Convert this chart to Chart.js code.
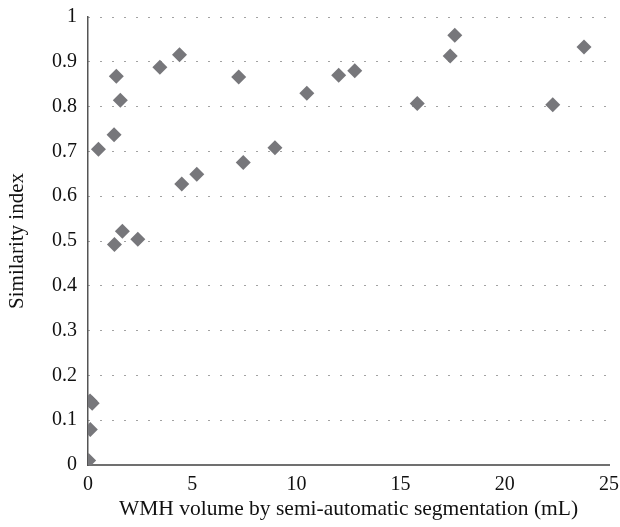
<!DOCTYPE html>
<html>
<head>
<meta charset="utf-8">
<script src="https://cdn.jsdelivr.net/npm/chart.js@4"></script>
<style>
  html, body { margin: 0; padding: 0; background: #fff; }
  #wrap { width: 620px; height: 527px; }
</style>
</head>
<body>
<div id="wrap"><canvas id="chart" width="620" height="527"></canvas></div>
<script>
// WMH volume (mL) vs similarity index
const volumes = [0.03, 0.11, 0.1, 0.2, 0.5, 1.25, 1.27, 1.36, 1.55, 1.65, 2.39, 3.45, 4.39, 4.5, 5.22,
  7.23, 7.45, 8.97, 10.5, 12.03, 12.8, 15.8, 17.38, 17.6, 22.3, 23.8];
const similarity = [0.01, 0.079, 0.143, 0.138, 0.705, 0.737, 0.492, 0.868, 0.814, 0.522, 0.504, 0.888, 0.916, 0.627, 0.649,
  0.866, 0.675, 0.708, 0.830, 0.870, 0.880, 0.807, 0.913, 0.959, 0.804, 0.933];
const xTicks = [0, 5, 10, 15, 20, 25];
const yTicks = [0, 0.1, 0.2, 0.3, 0.4, 0.5, 0.6, 0.7, 0.8, 0.9, 1];

const points = volumes.map((v, i) => ({ x: v, y: similarity[i] }));
const serif = "'Liberation Serif', 'DejaVu Serif', serif";

new Chart(document.getElementById('chart'), {
  type: 'scatter',
  data: {
    datasets: [{
      data: points,
      pointStyle: 'rectRot',
      pointRadius: 7.5,
      pointHoverRadius: 7.5,
      backgroundColor: '#77777b',
      borderWidth: 0
    }]
  },
  options: {
    responsive: false,
    animation: false,
    layout: { padding: { top: 17, right: 11, bottom: 0, left: 0 } },
    plugins: { legend: { display: false }, tooltip: { enabled: false } },
    scales: {
      x: {
        type: 'linear',
        min: 0,
        max: 25,
        afterBuildTicks: s => { s.ticks = xTicks.map(v => ({ value: v })); },
        afterFit: s => { s.height = 62; s.paddingLeft = 0; s.paddingRight = 0; },
        grid: { display: false, drawTicks: false },
        border: { display: true, color: '#707070', width: 2 },
        ticks: { color: '#111', padding: 8, font: { family: serif, size: 20 } },
        title: {
          display: true,
          text: 'WMH volume by semi-automatic segmentation (mL)',
          color: '#111',
          font: { family: serif, size: 21.5 },
          padding: { top: 0, bottom: 5 }
        }
      },
      y: {
        min: 0,
        max: 1,
        afterBuildTicks: s => { s.ticks = yTicks.map(v => ({ value: v })); },
        afterFit: s => { s.width = 88; s.paddingTop = 0; s.paddingBottom = 0; },
        grid: {
          drawTicks: false,
          color: '#444',
          lineWidth: 1
        },
        border: { display: true, color: '#555', width: 1.5, dash: [1, 11] },
        ticks: {
          color: '#111',
          padding: 11,
          font: { family: serif, size: 20 },
          callback: v => String(Math.round(v * 10) / 10)
        },
        title: {
          display: true,
          text: 'Similarity index',
          color: '#111',
          font: { family: serif, size: 21 },
          padding: { top: 5, bottom: 0 }
        }
      }
    }
  }
});
</script>
</body>
</html>
